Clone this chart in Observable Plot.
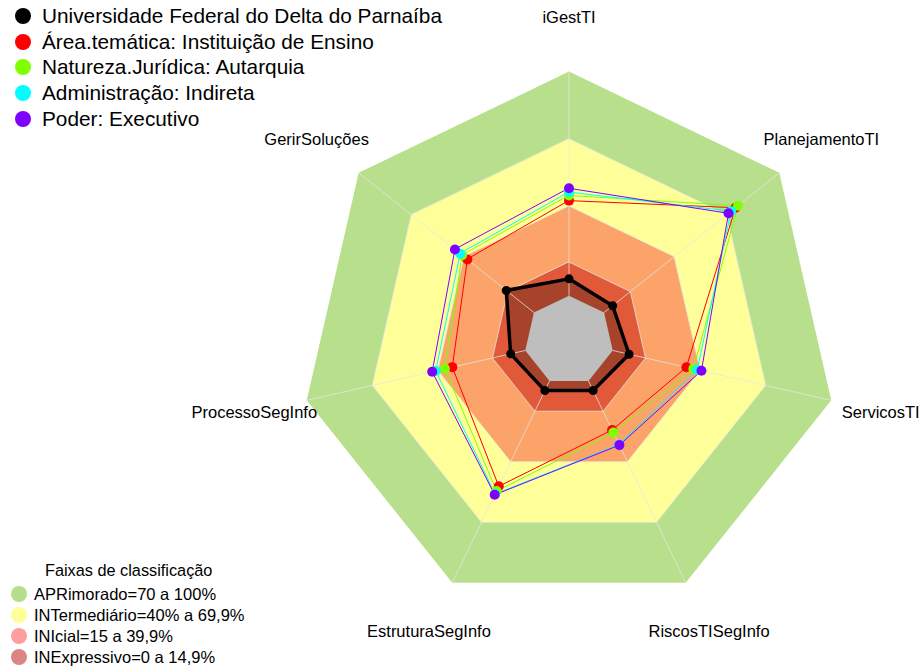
<!DOCTYPE html>
<html>
<head>
<meta charset="utf-8">
<script src="https://cdn.jsdelivr.net/npm/d3@7"></script>
<script src="https://cdn.jsdelivr.net/npm/@observablehq/plot@0.6"></script>
<style>
  html, body { margin: 0; padding: 0; background: #fff; }
  #wrap { position: relative; width: 921px; height: 666px; font-family: "Liberation Sans", Arial, sans-serif; }
  #wrap svg { position: absolute; left: 0; top: 0; }
  .leg { position: absolute; left: 0; top: 0; }
  .row { position: absolute; white-space: nowrap; display: flex; align-items: center; color: #000; }
  .sw { display: inline-block; border-radius: 50%; }
</style>
</head>
<body>
<div id="wrap"></div>
<script>
// ---- data ----
const axes = ["iGestTI", "PlanejamentoTI", "ServicosTI", "RiscosTISegInfo", "EstruturaSegInfo", "ProcessoSegInfo", "GerirSoluções"];
const ufdpar = [7.5, 4.9, 7.5, 4.8, 4.8, 6.7, 15.8];
const areaTematica = [42.4, 75.0, 33.7, 24.3, 52.2, 33.4, 38.0];
const naturezaJuridica = [44.7, 76.4, 36.9, 25.6, 54.5, 36.8, 41.0];
const administracao = [46.2, 72.5, 38.7, 31.5, 56.0, 41.0, 42.1];
const poder = [47.9, 71.0, 40.6, 31.8, 56.4, 42.6, 45.1];
const seriesNames = ["Universidade Federal do Delta do Parnaíba", "Área.temática: Instituição de Ensino", "Natureza.Jurídica: Autarquia", "Administração: Indireta", "Poder: Executivo"];
const seriesColors = ["#000000", "#FF0000", "#80FF00", "#00FFFF", "#8000FF"];
const bandLimits = [100, 70, 40, 15];
const bandFills = ["#B8E08C", "#FFFF99", "#FBA369", "#E05A3A"];
const bandLabels = ["APRimorado=70 a 100%", "INTermediário=40% a 69,9%", "INIcial=15 a 39,9%", "INExpressivo=0 a 14,9%"];
const bandSwatches = ["#B5DE8A", "#FFFF99", "#FF9E9E", "#DB8585"];
const legendTitle = "Faixas de classificação";

// ---- geometry ----
const W = 921, H = 666, CX = 568.5, CY = 340, R = 269;
const n = axes.length;
const rad = v => 1 / 6 + (5 / 6) * (v / 100);
const ang = k => Math.PI / 2 - k * 2 * Math.PI / n;
const pt = (k, r) => ({x: r * Math.cos(ang(k)), y: r * Math.sin(ang(k))});
const poly = values => values.map((v, k) => ({...pt(k, rad(v)), axis: axes[k], v}));
const ring = v => axes.map((a, k) => ({...pt(k, rad(v)), axis: a}));

const allSeries = [ufdpar, areaTematica, naturezaJuridica, administracao, poder];

const marks = [];
bandLimits.forEach((lim, i) => {
  marks.push(Plot.line(ring(lim), {x: "x", y: "y", curve: "linear-closed", fill: bandFills[i], stroke: "none"}));
});
// filled polygon of the institution
marks.push(Plot.line(poly(ufdpar), {x: "x", y: "y", curve: "linear-closed", fill: "#000", fillOpacity: 0.25, stroke: "none"}));
// grey centre
marks.push(Plot.line(ring(0), {x: "x", y: "y", curve: "linear-closed", fill: "#BEBEBE", stroke: "none"}));
// grid: spokes and rings
const spokes = axes.map((a, k) => { const p0 = pt(k, rad(0)), p1 = pt(k, rad(100)); return {x1: p0.x, y1: p0.y, x2: p1.x, y2: p1.y}; });
marks.push(Plot.link(spokes, {x1: "x1", y1: "y1", x2: "x2", y2: "y2", stroke: "#E6E6E6", strokeOpacity: 0.75, strokeWidth: 1}));
[15, 40, 70].forEach(v => {
  marks.push(Plot.line(ring(v), {x: "x", y: "y", curve: "linear-closed", stroke: "#E6E6E6", strokeOpacity: 0.75, strokeWidth: 1, fill: "none"}));
});
// series lines
allSeries.forEach((s, i) => {
  marks.push(Plot.line(poly(s), {x: "x", y: "y", curve: "linear-closed", stroke: seriesColors[i], strokeWidth: i === 0 ? 3.5 : 1, fill: "none"}));
});
// series points
allSeries.forEach((s, i) => {
  marks.push(Plot.dot(poly(s), {x: "x", y: "y", r: i === 0 ? 4.5 : 5, fill: seriesColors[i], stroke: "none"}));
});
// axis labels
const labelData = axes.map((a, k) => ({...pt(k, 1.2), label: a}));
const labelStyle = {x: "x", y: "y", text: "label", fontSize: 16.5, fill: "#000", textAnchor: "middle", fontFamily: "Liberation Sans, Arial, sans-serif"};
marks.push(Plot.text(labelData, {...labelStyle, filter: d => d.label !== "ServicosTI"}));
marks.push(Plot.text(labelData, {...labelStyle, filter: d => d.label === "ServicosTI", dx: -3}));

const chart = Plot.plot({
  width: W, height: H,
  marginTop: 0, marginRight: 0, marginBottom: 0, marginLeft: 0,
  x: {domain: [-CX / R, (W - CX) / R], range: [0, W], axis: null},
  y: {domain: [-(H - CY) / R, CY / R], range: [H, 0], axis: null},
  style: {background: "transparent", fontFamily: "Liberation Sans, Arial, sans-serif"},
  marks
});
const wrap = document.getElementById("wrap");
wrap.appendChild(chart);

// ---- legends (HTML overlay) ----
const legTop = document.createElement("div");
legTop.className = "leg";
seriesNames.forEach((name, i) => {
  const row = document.createElement("div");
  row.className = "row";
  row.style.left = "15px";
  row.style.top = (4 + i * 25.7) + "px";
  row.style.height = "24px";
  row.style.fontSize = "20.8px";
  row.innerHTML = `<span class="sw" style="width:16px;height:16px;background:${seriesColors[i]};margin-right:11px"></span><span>${name}</span>`;
  legTop.appendChild(row);
});
wrap.appendChild(legTop);

const legBot = document.createElement("div");
legBot.className = "leg";
const legTitle = document.createElement("div");
legTitle.className = "row";
legTitle.style.left = "45px";
legTitle.style.top = "561px";
legTitle.style.fontSize = "16.3px";
legTitle.textContent = legendTitle;
legBot.appendChild(legTitle);
bandLabels.forEach((lab, i) => {
  const row = document.createElement("div");
  row.className = "row";
  row.style.left = "11px";
  row.style.top = (584 + i * 21) + "px";
  row.style.height = "20px";
  row.style.fontSize = "16.5px";
  row.innerHTML = `<span class="sw" style="width:16px;height:16px;background:${bandSwatches[i]};margin-right:7px"></span><span>${lab}</span>`;
  legBot.appendChild(row);
});
wrap.appendChild(legBot);
</script>
</body>
</html>
